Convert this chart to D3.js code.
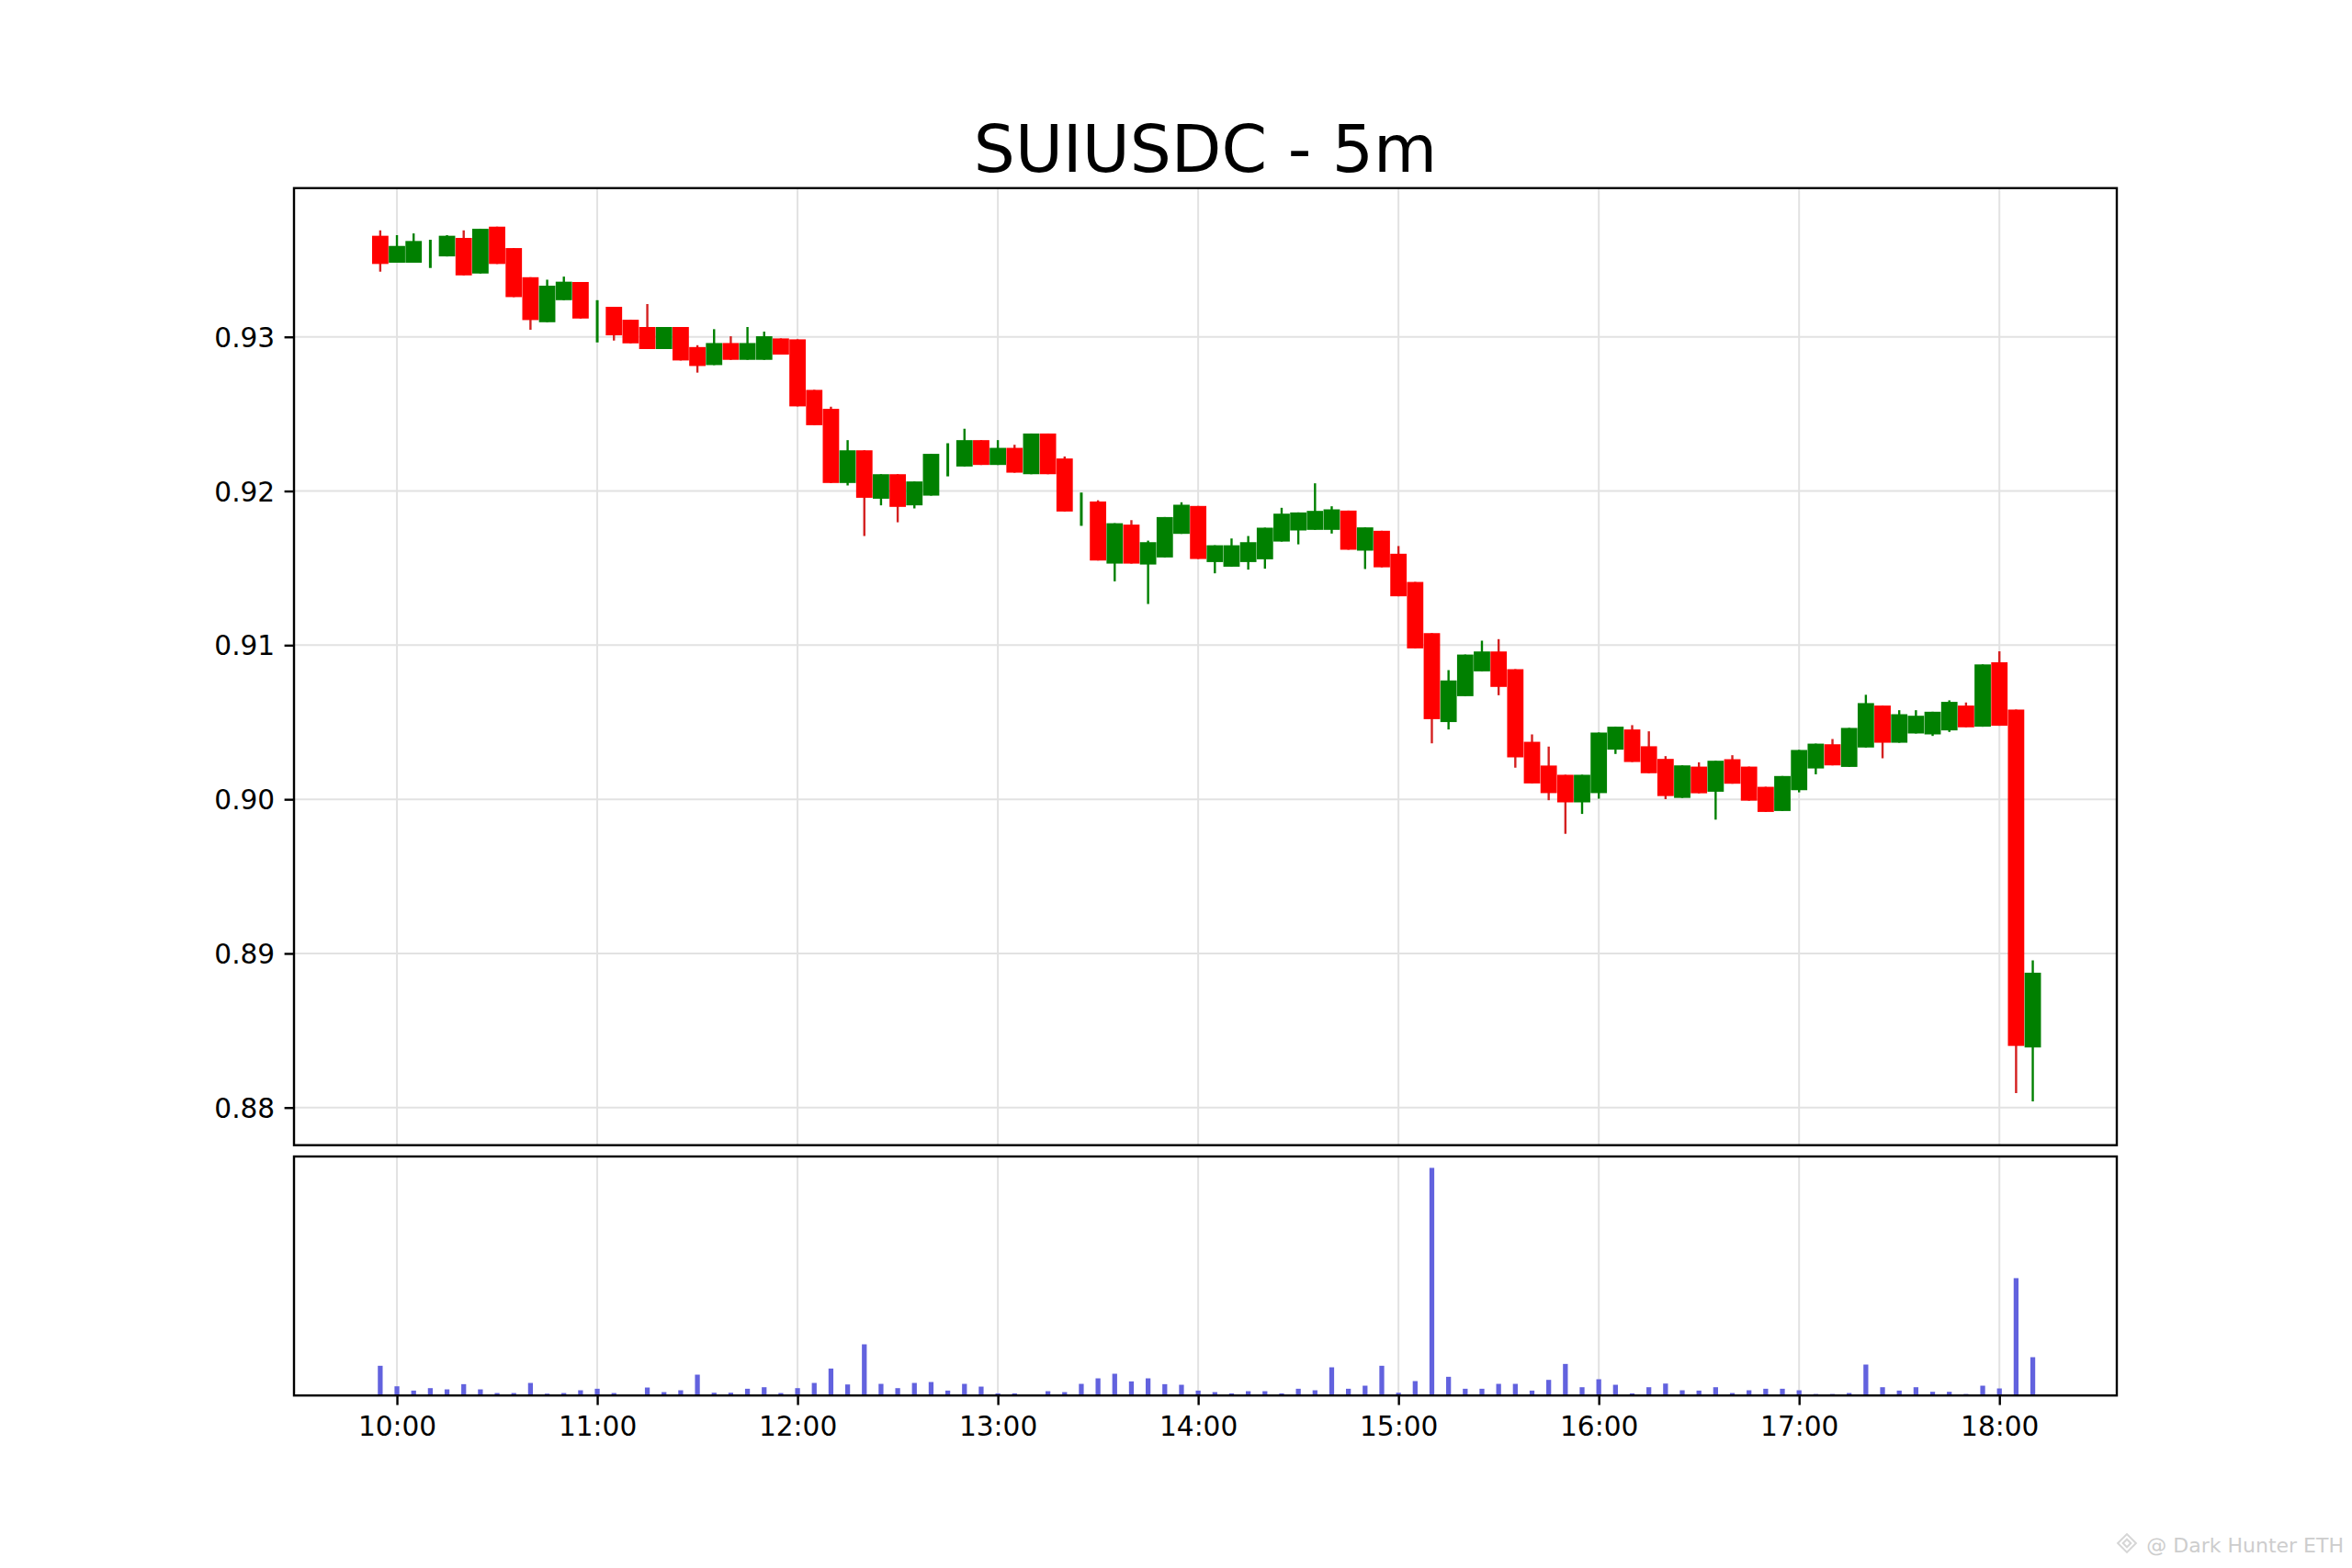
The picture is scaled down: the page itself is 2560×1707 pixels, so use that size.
<!DOCTYPE html>
<html>
<head>
<meta charset="utf-8">
<script src="https://cdn.jsdelivr.net/npm/d3@7"></script>
<style>
  body { margin: 0; background: #fff; }
  svg { display: block; }
</style>
</head>
<body>
<div id="chart"></div>
<script>
const title = "SUIUSDC - 5m";

const times = [
    "09:55",
    "10:00", "10:05", "10:10", "10:15", "10:20", "10:25", "10:30", "10:35", "10:40", "10:45", "10:50", "10:55",
    "11:00", "11:05", "11:10", "11:15", "11:20", "11:25", "11:30", "11:35", "11:40", "11:45", "11:50", "11:55",
    "12:00", "12:05", "12:10", "12:15", "12:20", "12:25", "12:30", "12:35", "12:40", "12:45", "12:50", "12:55",
    "13:00", "13:05", "13:10", "13:15", "13:20", "13:25", "13:30", "13:35", "13:40", "13:45", "13:50", "13:55",
    "14:00", "14:05", "14:10", "14:15", "14:20", "14:25", "14:30", "14:35", "14:40", "14:45", "14:50", "14:55",
    "15:00", "15:05", "15:10", "15:15", "15:20", "15:25", "15:30", "15:35", "15:40", "15:45", "15:50", "15:55",
    "16:00", "16:05", "16:10", "16:15", "16:20", "16:25", "16:30", "16:35", "16:40", "16:45", "16:50", "16:55",
    "17:00", "17:05", "17:10", "17:15", "17:20", "17:25", "17:30", "17:35", "17:40", "17:45", "17:50", "17:55",
    "18:00", "18:05", "18:10"
];

const open = [
    0.93656, 0.93481, 0.93481, 0.93540, 0.93522, 0.93642, 0.93411, 0.93715, 0.93576, 0.93387,
    0.93095, 0.93238, 0.93356, 0.93100, 0.93195, 0.93111, 0.93064, 0.92921, 0.93064, 0.92934,
    0.92817, 0.92960, 0.92851, 0.92851, 0.92990, 0.92984, 0.92656, 0.92533, 0.92052, 0.92264,
    0.91950, 0.92109, 0.91907, 0.91970, 0.92200, 0.92159, 0.92330, 0.92169, 0.92280, 0.92109,
    0.92373, 0.92211, 0.91870, 0.91932, 0.91529, 0.91782, 0.91523, 0.91569, 0.91722, 0.91903,
    0.91539, 0.91509, 0.91539, 0.91557, 0.91672, 0.91744, 0.91748, 0.91748, 0.91873, 0.91613,
    0.91742, 0.91593, 0.91410, 0.91078, 0.90501, 0.90669, 0.90830, 0.90959, 0.90844, 0.90373,
    0.90219, 0.90159, 0.89980, 0.90040, 0.90322, 0.90453, 0.90344, 0.90262, 0.90009, 0.90212,
    0.90049, 0.90260, 0.90212, 0.90081, 0.89924, 0.90059, 0.90200, 0.90357, 0.90210, 0.90336,
    0.90608, 0.90367, 0.90427, 0.90421, 0.90447, 0.90608, 0.90471, 0.90889, 0.90582, 0.88390
];

const high = [
    0.93691, 0.93660, 0.93671, 0.93630, 0.93660, 0.93691, 0.93701, 0.93715, 0.93576, 0.93387,
    0.93371, 0.93391, 0.93356, 0.93238, 0.93195, 0.93111, 0.93213, 0.93064, 0.93064, 0.92946,
    0.93050, 0.93004, 0.93064, 0.93034, 0.92990, 0.92984, 0.92656, 0.92547, 0.92330, 0.92264,
    0.92109, 0.92109, 0.92062, 0.92241, 0.92310, 0.92404, 0.92330, 0.92330, 0.92300, 0.92373,
    0.92373, 0.92224, 0.91990, 0.91940, 0.91791, 0.91811, 0.91678, 0.91831, 0.91927, 0.91903,
    0.91648, 0.91692, 0.91708, 0.91762, 0.91891, 0.91861, 0.92050, 0.91901, 0.91873, 0.91764,
    0.91742, 0.91643, 0.91410, 0.91078, 0.90838, 0.90939, 0.91029, 0.91039, 0.90844, 0.90421,
    0.90342, 0.90159, 0.90159, 0.90433, 0.90471, 0.90481, 0.90441, 0.90280, 0.90220, 0.90240,
    0.90250, 0.90286, 0.90212, 0.90081, 0.90151, 0.90320, 0.90361, 0.90391, 0.90463, 0.90678,
    0.90608, 0.90578, 0.90578, 0.90568, 0.90642, 0.90628, 0.90875, 0.90960, 0.90582, 0.88955
];

const low = [
    0.93423, 0.93481, 0.93481, 0.93447, 0.93522, 0.93399, 0.93411, 0.93473, 0.93258, 0.93046,
    0.93095, 0.93238, 0.93119, 0.92964, 0.92976, 0.92958, 0.92921, 0.92921, 0.92847, 0.92768,
    0.92817, 0.92851, 0.92851, 0.92851, 0.92885, 0.92549, 0.92427, 0.92052, 0.92036, 0.91708,
    0.91907, 0.91797, 0.91887, 0.91970, 0.92095, 0.92159, 0.92169, 0.92169, 0.92119, 0.92109,
    0.92109, 0.91867, 0.91774, 0.91549, 0.91414, 0.91529, 0.91267, 0.91569, 0.91722, 0.91559,
    0.91466, 0.91509, 0.91490, 0.91496, 0.91672, 0.91654, 0.91748, 0.91724, 0.91619, 0.91494,
    0.91505, 0.91317, 0.90979, 0.90363, 0.90453, 0.90669, 0.90830, 0.90675, 0.90205, 0.90103,
    0.89994, 0.89776, 0.89905, 0.90004, 0.90294, 0.90242, 0.90169, 0.90001, 0.90009, 0.90039,
    0.89868, 0.90101, 0.89991, 0.89918, 0.89924, 0.90045, 0.90162, 0.90220, 0.90210, 0.90336,
    0.90266, 0.90367, 0.90427, 0.90411, 0.90437, 0.90467, 0.90471, 0.90477, 0.88094, 0.88040
];

const close = [
    0.93473, 0.93590, 0.93622, 0.93540, 0.93656, 0.93399, 0.93701, 0.93473, 0.93258, 0.93109,
    0.93332, 0.93358, 0.93119, 0.93100, 0.93010, 0.92958, 0.92921, 0.93064, 0.92847, 0.92811,
    0.92960, 0.92851, 0.92960, 0.93004, 0.92885, 0.92549, 0.92427, 0.92052, 0.92264, 0.91956,
    0.92109, 0.91897, 0.92062, 0.92241, 0.92200, 0.92330, 0.92169, 0.92280, 0.92119, 0.92373,
    0.92109, 0.91867, 0.91870, 0.91549, 0.91791, 0.91529, 0.91668, 0.91831, 0.91911, 0.91559,
    0.91648, 0.91648, 0.91668, 0.91762, 0.91853, 0.91861, 0.91871, 0.91881, 0.91619, 0.91764,
    0.91505, 0.91317, 0.90979, 0.90520, 0.90771, 0.90939, 0.90959, 0.90729, 0.90272, 0.90103,
    0.90040, 0.89980, 0.90159, 0.90433, 0.90471, 0.90242, 0.90169, 0.90021, 0.90220, 0.90039,
    0.90250, 0.90101, 0.89991, 0.89918, 0.90151, 0.90320, 0.90361, 0.90220, 0.90463, 0.90624,
    0.90367, 0.90552, 0.90542, 0.90568, 0.90632, 0.90467, 0.90875, 0.90477, 0.88400, 0.88875
];

// volume in thousand SUI (read relative to the tallest bar)
const volume = [
    97, 30, 16, 24, 20, 37, 20, 8, 8, 41,
    6, 8, 17, 22, 8, 3, 26, 11, 17, 68,
    9, 9, 22, 27, 8, 24, 41, 88, 36, 167,
    38, 24, 41, 44, 16, 38, 29, 7, 7, 2,
    14, 11, 38, 56, 71, 46, 56, 37, 35, 16,
    11, 7, 14, 14, 7, 22, 17, 92, 22, 32,
    97, 9, 47, 743, 61, 22, 22, 38, 38, 16,
    51, 103, 27, 53, 35, 7, 27, 39, 17, 16,
    27, 8, 17, 22, 22, 17, 5, 5, 8, 101,
    27, 16, 27, 12, 12, 5, 32, 23, 383, 125
];

const priceTicks = [0.88, 0.89, 0.90, 0.91, 0.92, 0.93];
const timeTicks = ["10:00", "11:00", "12:00", "13:00", "14:00", "15:00", "16:00", "17:00", "18:00"];
const timeRange = ["09:29:10", "18:35:10"];

const width = 2560, height = 1707;
const plotLeft = 320, plotRight = 2304;
const priceTop = 204.8, priceBottom = 1246.7;
const volTop = 1259, volBottom = 1519.2;
const font = "'DejaVu Sans', sans-serif";
const tickFont = 29.6;
const upColor = "#008000", downColor = "#ff0000";

const parseTime = d3.timeParse("%H:%M");
const parseSec = d3.timeParse("%H:%M:%S");

const candles = times.map((t, i) => ({
    time: parseTime(t),
    open: open[i],
    high: high[i],
    low: low[i],
    close: close[i],
    volume: volume[i]
}));

const x = d3.scaleTime()
    .domain(timeRange.map(parseSec))
    .range([plotLeft, plotRight]);

const y = d3.scaleLinear()
    .domain([0.87756, 0.93965])
    .range([priceBottom, priceTop]);

const yVol = d3.scaleLinear()
    .domain([0, d3.max(volume) * 1.05])
    .range([volBottom, volTop]);

const minutes = m => x(new Date(2000, 0, 1, 0, 0, m * 60)) - x(new Date(2000, 0, 1, 0, 0, 0));
const bodyWidth = minutes(4.9);
const volWidth = minutes(1.45);

const svg = d3.select("#chart")
    .append("svg")
    .attr("width", width)
    .attr("height", height)
    .attr("viewBox", "0 0 " + width + " " + height);

svg.append("rect")
    .attr("width", width)
    .attr("height", height)
    .attr("fill", "#fff");

// grid
const tickDates = timeTicks.map(parseTime);
[[priceTop, priceBottom], [volTop, volBottom]].forEach(([t, b]) => {
    svg.append("g")
        .selectAll("line")
        .data(tickDates)
        .enter().append("line")
        .attr("x1", d => x(d))
        .attr("x2", d => x(d))
        .attr("y1", t)
        .attr("y2", b)
        .attr("stroke", "#e2e2e2")
        .attr("stroke-width", 2);
});

svg.append("g")
    .selectAll("line")
    .data(priceTicks)
    .enter().append("line")
    .attr("x1", plotLeft)
    .attr("x2", plotRight)
    .attr("y1", d => y(d))
    .attr("y2", d => y(d))
    .attr("stroke", "#e2e2e2")
    .attr("stroke-width", 2);

// candles
const candleG = svg.append("g");

candleG.selectAll("line.wick")
    .data(candles)
    .enter().append("line")
    .attr("class", "wick")
    .attr("x1", d => x(d.time))
    .attr("x2", d => x(d.time))
    .attr("y1", d => y(d.high))
    .attr("y2", d => y(d.low))
    .attr("stroke", d => d.close >= d.open ? upColor : "#d42020")
    .attr("stroke-width", d => d.open === d.close ? 3 : 2.4);

candleG.selectAll("rect.body")
    .data(candles.filter(d => d.open !== d.close))
    .enter().append("rect")
    .attr("class", "body")
    .attr("x", d => x(d.time) - bodyWidth / 2)
    .attr("y", d => y(Math.max(d.open, d.close)))
    .attr("width", bodyWidth)
    .attr("height", d => Math.max(1, Math.abs(y(d.open) - y(d.close))))
    .attr("fill", d => d.close >= d.open ? upColor : downColor);

// volume
svg.append("g")
    .selectAll("rect")
    .data(candles)
    .enter().append("rect")
    .attr("x", d => x(d.time) - volWidth / 2)
    .attr("y", d => yVol(d.volume))
    .attr("width", volWidth)
    .attr("height", d => volBottom - yVol(d.volume))
    .attr("fill", "#6262de");

// frames
[[priceTop, priceBottom], [volTop, volBottom]].forEach(([t, b]) => {
    svg.append("rect")
        .attr("x", plotLeft)
        .attr("y", t)
        .attr("width", plotRight - plotLeft)
        .attr("height", b - t)
        .attr("fill", "none")
        .attr("stroke", "#000")
        .attr("stroke-width", 2.4);
});

// axes
const yAxis = svg.append("g")
    .attr("transform", "translate(" + plotLeft + ",0)")
    .call(d3.axisLeft(y)
        .tickValues(priceTicks)
        .tickFormat(d3.format(".2f"))
        .tickSize(10.4)
        .tickPadding(10.4));

const xAxis = svg.append("g")
    .attr("transform", "translate(0," + volBottom + ")")
    .call(d3.axisBottom(x)
        .tickValues(tickDates)
        .tickFormat(d3.timeFormat("%H:%M"))
        .tickSize(10.4)
        .tickPadding(10.4));

[yAxis, xAxis].forEach(g => {
    g.select(".domain").remove();
    g.selectAll(".tick line")
        .attr("stroke", "#000")
        .attr("stroke-width", 2.4);
    g.selectAll(".tick text")
        .attr("fill", "#000")
        .style("font-family", font)
        .style("font-size", tickFont + "px");
});

yAxis.selectAll(".tick text").attr("dy", "0.36em");
xAxis.selectAll(".tick text").attr("dy", "0.78em");

// title
svg.append("text")
    .attr("x", (plotLeft + plotRight) / 2)
    .attr("y", 187)
    .attr("text-anchor", "middle")
    .style("font-family", font)
    .style("font-size", "71px")
    .attr("fill", "#000")
    .text(title);

// watermark
const mark = svg.append("g")
    .attr("fill", "none")
    .attr("stroke", "#d6d6d6")
    .attr("stroke-width", 2);
mark.append("rect")
    .attr("x", 2308)
    .attr("y", 1673)
    .attr("width", 14)
    .attr("height", 14)
    .attr("transform", "rotate(45 2315 1680)");
mark.append("rect")
    .attr("x", 2312)
    .attr("y", 1677)
    .attr("width", 6)
    .attr("height", 6)
    .attr("transform", "rotate(45 2315 1680)");

svg.append("text")
    .attr("x", 2551)
    .attr("y", 1690)
    .attr("text-anchor", "end")
    .style("font-family", font)
    .style("font-size", "22px")
    .attr("fill", "#cdcdcd")
    .text("@ Dark Hunter ETH");
</script>
</body>
</html>
